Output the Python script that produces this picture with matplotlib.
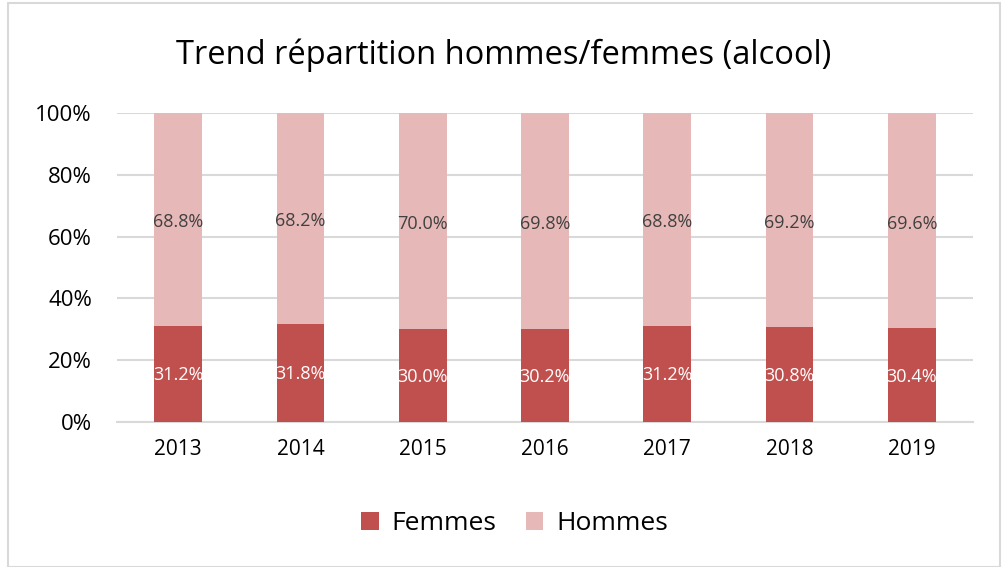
import matplotlib
matplotlib.use("Agg")
import matplotlib.pyplot as plt
from matplotlib.patches import Rectangle
import numpy as np

years = ["2013", "2014", "2015", "2016", "2017", "2018", "2019"]
femmes = [31.2, 31.8, 30.0, 30.2, 31.2, 30.8, 30.4]
hommes = [68.8, 68.2, 70.0, 69.8, 68.8, 69.2, 69.6]
yticks = [0, 20, 40, 60, 80, 100]
ytick_labels = ["0%", "20%", "40%", "60%", "80%", "100%"]

c_f = "#C0504D"
c_h = "#E6B9B8"

plt.rcParams["font.family"] = ["Open Sans", "DejaVu Sans"]

fig = plt.figure(figsize=(10.07, 5.67), dpi=100)
ax = fig.add_axes([117/1007, 1-422/567, 856/1007, 309/567])

x = np.arange(len(years))
w = 0.39
ax.bar(x, femmes, width=w, color=c_f, label="Femmes", zorder=3)
ax.bar(x, hommes, width=w, bottom=femmes, color=c_h, label="Hommes", zorder=3)

for xi, f, h in zip(x, femmes, hommes):
    ax.text(xi, f/2 - 0.5, f"{f:.1f}%", ha="center", va="center", color="white",
            fontsize=13, zorder=4)
    ax.text(xi, f + h/2 - 1, f"{h:.1f}%", ha="center", va="center", color="#404040",
            fontsize=13, zorder=4)

ax.set_xlim(-0.5, len(years) - 0.5)
ax.set_ylim(0, 100)
ax.set_yticks(yticks)
ax.set_yticklabels(ytick_labels)
ax.set_xticks(x)
ax.set_xticklabels(years)
ax.tick_params(length=0, colors="#000000")
ax.tick_params(axis="y", pad=18, labelsize=16)
ax.tick_params(axis="x", pad=12, labelsize=15)
ax.yaxis.grid(True, color="#D9D9D9", linewidth=1.5, zorder=0)
for s in ["top", "right", "left"]:
    ax.spines[s].set_visible(False)
ax.spines["bottom"].set_color("#D9D9D9")
ax.spines["bottom"].set_linewidth(1.5)

fig.text(0.5, 1-55/567, "Trend répartition hommes/femmes (alcool)",
         ha="center", va="center", fontsize=23.5, color="#000000")

leg = fig.legend(loc="center", bbox_to_anchor=(0.511, 1-524/567), ncol=2,
                 frameon=False, fontsize=19, handlelength=0.65, handleheight=0.65,
                 columnspacing=1.1, handletextpad=0.5)

fig.patches.append(Rectangle((8/1007, 0), (1000-8)/1007, 1-3/567,
                             transform=fig.transFigure, fill=False,
                             edgecolor="#D9D9D9", linewidth=1.5))

fig.savefig("out.png", dpi=100, facecolor="white")
